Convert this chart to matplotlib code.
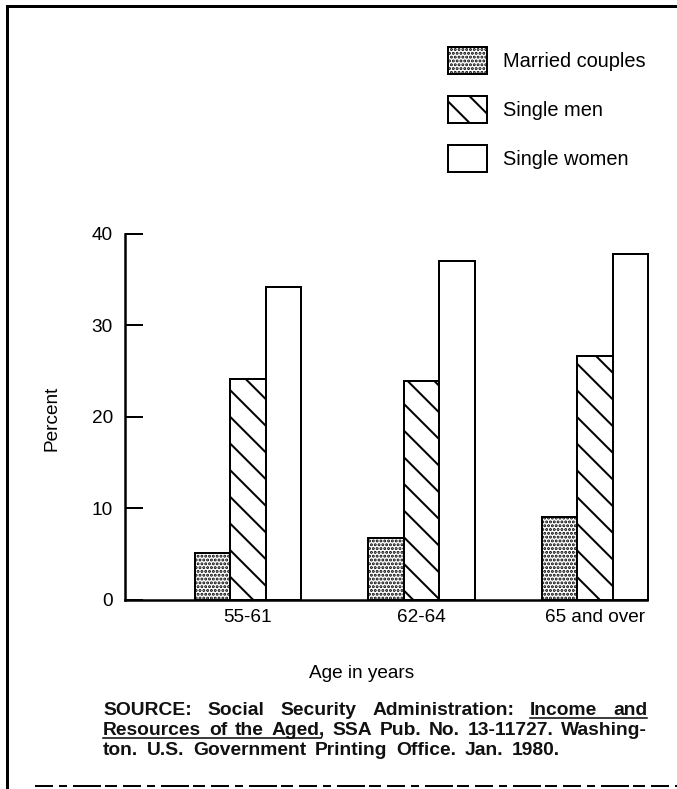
import numpy as np
import matplotlib.pyplot as plt
from matplotlib.lines import Line2D

# values (percent)
groups = ['55-61', '62-64', '65 and over']
married = [5.1, 6.8, 9.1]
single_men = [24.2, 23.9, 26.7]
single_women = [34.2, 37.0, 37.8]
series_names = ['Married couples', 'Single men', 'Single women']
yticks = [0, 10, 20, 30, 40]

source_lines = [
    'SOURCE: Social Security Administration: Income and',
    'Resources of the Aged, SSA Pub. No. 13-11727. Washing-',
    'ton. U.S. Government Printing Office. Jan. 1980.',
]

W, H, DPI = 677, 789, 160
plt.rcParams['font.family'] = ['Liberation Sans', 'DejaVu Sans']
plt.rcParams['hatch.linewidth'] = 0.9

def fx(px):
    return px / W

def fy(py):
    return 1 - py / H

def pt(px):
    return px * 72.0 / DPI

fig = plt.figure(figsize=(W / DPI, H / DPI), dpi=DPI)
ax = fig.add_axes([fx(125), fy(600), (647 - 125) / W, (600 - 234) / H])

x = np.arange(len(groups))
w = 0.2046
lw = pt(2)
b1 = ax.bar(x - w, married, w, color='white', edgecolor='black', hatch='.' * 7,
            linewidth=lw, label=series_names[0], clip_on=False)
b2 = ax.bar(x, single_men, w, color='white', edgecolor='black', hatch='\\\\',
            linewidth=lw, label=series_names[1], clip_on=False)
b3 = ax.bar(x + w, single_women, w, color='white', edgecolor='black',
            linewidth=lw, label=series_names[2], clip_on=False)

ax.set_xlim(-0.709, 2.300)
ax.set_ylim(0, 40)
ax.set_yticks(yticks)
ax.set_yticklabels([str(t) for t in yticks], fontsize=pt(19))
ax.set_xticks(x)
ax.set_xticklabels(groups, fontsize=pt(19))
ax.tick_params(axis='y', direction='in', length=pt(18), width=pt(2), pad=pt(12))
ax.tick_params(axis='x', length=0, pad=pt(9))
for s in ['top', 'right']:
    ax.spines[s].set_visible(False)
for s in ['left', 'bottom']:
    ax.spines[s].set_linewidth(pt(2.5))

fig.text(fx(52), fy(418), 'Percent', rotation=90, fontsize=pt(19), ha='center', va='center')
fig.text(fx(362), fy(673), 'Age in years', fontsize=pt(19), ha='center', va='center')

fig.legend(handles=[b1, b2, b3], loc='upper left', bbox_to_anchor=(fx(448), fy(47)),
           frameon=False, fontsize=pt(20), handlelength=1.95, handleheight=1.7,
           labelspacing=1.1, handletextpad=0.8, borderpad=0, borderaxespad=0)

# source note, justified lines with underlined title
renderer = fig.canvas.get_renderer()
x0, x1 = 103, 647
probe = fig.text(0, 0, source_lines[1], fontsize=pt(16.5), weight='bold')
src_fs = pt(16.5) * (x1 - x0 - 20) / probe.get_window_extent(renderer).width
probe.remove()
baselines = [715, 735, 755]
for i, line in enumerate(source_lines):
    words = line.split(' ')
    texts = [fig.text(0, fy(baselines[i]), wd, fontsize=src_fs, weight='bold', va='baseline',
                      color='#111111') for wd in words]
    widths = [t.get_window_extent(renderer).width for t in texts]
    if i < 2:
        gap = (x1 - x0 - sum(widths)) / (len(words) - 1)
    else:
        gap = src_fs * DPI / 72.0 * 0.45
    xp = x0
    spans = []
    for t, wd in zip(texts, widths):
        t.set_x(fx(xp))
        spans.append((xp, xp + wd))
        xp += wd + gap
    if i < 2:
        seg = spans[-2:] if i == 0 else spans[:4]
        ux0, ux1 = seg[0][0], seg[-1][1] - (4 if i == 1 else 0)
        fig.add_artist(Line2D([fx(ux0), fx(ux1)], [fy(baselines[i] + 3)] * 2,
                              color='black', linewidth=pt(1.5)))

# page frame
fig.add_artist(Line2D([fx(7), fx(7)], [fy(6), 0], color='black', linewidth=pt(3)))
fig.add_artist(Line2D([fx(7), 1], [fy(6), fy(6)], color='black', linewidth=pt(3)))
fig.add_artist(Line2D([fx(35), 1], [fy(786), fy(786)], color='black', linewidth=pt(2),
                      linestyle=(0, (9, 3, 4, 3, 14, 2, 6, 3))))

fig.savefig('out.png', dpi=DPI)
